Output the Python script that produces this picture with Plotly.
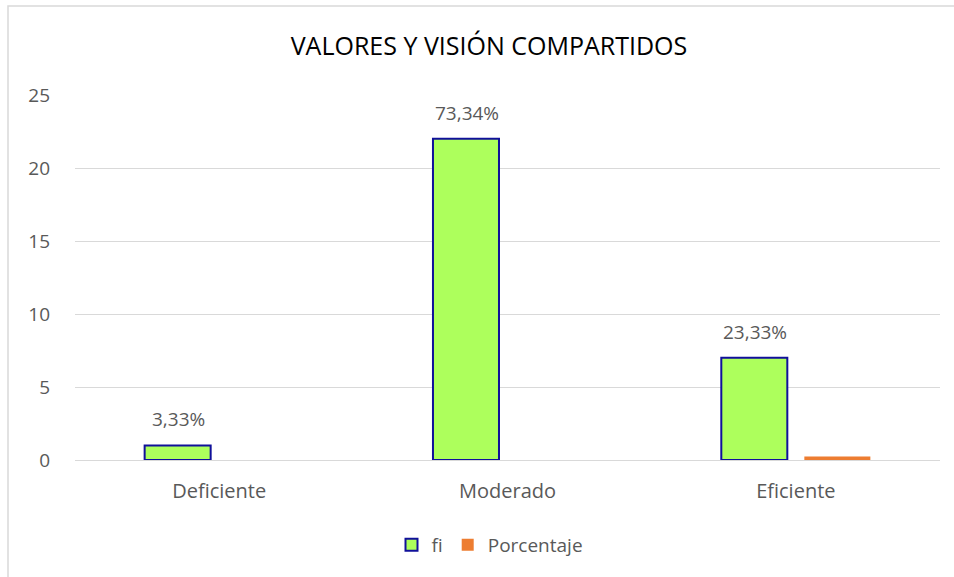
import plotly.graph_objects as go

categorias = ["Deficiente", "Moderado", "Eficiente"]
fi = [1, 22, 7]
porcentaje = [0, 0, 0.2333]
etiquetas = ["3,33%", "73,34%", "23,33%"]

W, H = 954, 577
L, R, T, B = 75, 14, 95, 117
pw, ph = W - L - R, H - T - B

gris = "#595959"

fig = go.Figure()
fig.add_trace(go.Bar(
    x=categorias, y=fi, name="fi",
    marker=dict(color="#ADFF5C", line=dict(color="#10109A", width=2)),
))
fig.add_trace(go.Bar(
    x=categorias, y=porcentaje, name="Porcentaje",
    marker=dict(color="#ED7D31", line=dict(width=0)),
))

# etiquetas de datos sobre las barras fi
for cat, val, txt in zip(categorias, fi, etiquetas):
    fig.add_annotation(x=cat, y=val, text=txt, showarrow=False,
                       xshift=-41, yshift=26, yanchor="middle",
                       font=dict(size=19, color=gris))

fig.update_layout(
    width=W, height=H,
    margin=dict(l=L, r=R, t=T, b=B),
    paper_bgcolor="white", plot_bgcolor="white",
    font=dict(family="Open Sans", color=gris, size=18),
    title=dict(text="VALORES Y VISIÓN COMPARTIDOS", x=489 / W, xanchor="center",
               y=1 - 46 / H, yanchor="middle",
               font=dict(size=25, color="#000000")),
    barmode="group", bargap=0.424, bargroupgap=0.205,
    showlegend=True,
    legend=dict(orientation="h", x=(490 - L) / pw, xanchor="center",
                y=-(545 - 460) / ph, yanchor="middle",
                font=dict(size=19, color=gris),
                itemwidth=30, tracegroupgap=0),
    xaxis=dict(showline=True, linecolor="#D9D9D9", linewidth=1, ticks="",
               ticklabelstandoff=13, tickfont=dict(size=20, color=gris)),
    yaxis=dict(range=[0, 25], dtick=5, showgrid=True, gridcolor="#D9D9D9",
               zeroline=False, ticks="", ticklabelstandoff=24,
               tickfont=dict(size=19, color=gris)),
)

# borde del área del gráfico
fig.add_shape(type="rect", xref="paper", yref="paper",
              x0=(8 - L) / pw, x1=(W + 5 - L) / pw,
              y0=-(H + 5 - T - ph) / ph, y1=1 + (T - 6) / ph,
              line=dict(color="#D9D9D9", width=1.5), layer="below")

fig.write_html("out.html", config={"displayModeBar": False},
               post_script="document.body.style.margin='0';")
